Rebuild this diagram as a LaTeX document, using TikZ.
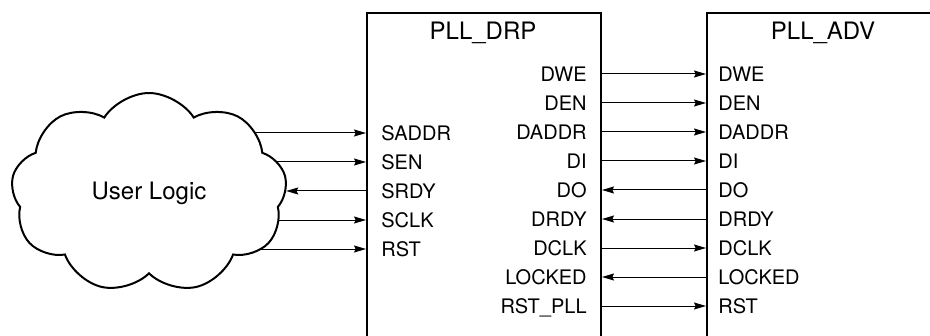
\documentclass[tikz,border=0pt]{standalone}
\usepackage{fontspec}
\setmainfont{TeX Gyre Heros}
\usetikzlibrary{shapes.symbols,arrows.meta,backgrounds}

\begin{document}
\begin{tikzpicture}[x=0.5pt,y=-0.5pt,
  block/.style={draw,line width=1pt,minimum width=#1,minimum height=220pt,anchor=north west,inner sep=0pt},
  port/.style={font=\fontsize{10}{12}\selectfont,inner sep=0pt,text height=7.2pt,text depth=0pt},
  title/.style={font=\fontsize{12}{14}\selectfont,inner sep=0pt},
  sig/.style={line width=0.5pt,-{Stealth[length=6pt,width=3.5pt,inset=0.8pt]}}]
  \useasboundingbox (0,0) rectangle (930,336);
  \clip (0,0) rectangle (930,336);

  % the two blocks
  \node[block=117pt] (drp) at (366,12) {};
  \node[block=150pt] (adv) at (706,12) {};
  \node[title] at (483,33) {PLL\_DRP};
  \node[title] at (823,33) {PLL\_ADV};

  % user side
  \node[cloud,draw,fill=white,line width=1pt,cloud puffs=9,cloud puff arc=115,
        cloud ignores aspect,minimum width=138pt,minimum height=100pt,
        font=\fontsize{12}{14}\selectfont] (ul) at (149,193) {User Logic};

  % PLL_DRP ports, left
  \node[port,anchor=west] (saddr) at (381,133) {SADDR};
  \node[port,anchor=west] (sen) at (381,162) {SEN};
  \node[port,anchor=west] (srdy) at (381,191) {SRDY};
  \node[port,anchor=west] (sclk) at (381,220) {SCLK};
  \node[port,anchor=west] (srst) at (381,249) {RST};

  % PLL_DRP ports, right
  \node[port,anchor=east] (dwe) at (587,74) {DWE};
  \node[port,anchor=east] (den) at (587,103) {DEN};
  \node[port,anchor=east] (daddr) at (587,132) {DADDR};
  \node[port,anchor=east] (di) at (587,161) {DI};
  \node[port,anchor=east] (do) at (587,190) {DO};
  \node[port,anchor=east] (drdy) at (587,219) {DRDY};
  \node[port,anchor=east] (dclk) at (587,248) {DCLK};
  \node[port,anchor=east] (locked) at (587,277) {LOCKED};
  \node[port,anchor=east] (rstpll) at (587,306) {RST\_PLL};

  % PLL_ADV ports
  \node[port,anchor=west] (a-dwe) at (718,74) {DWE};
  \node[port,anchor=west] (a-den) at (718,103) {DEN};
  \node[port,anchor=west] (a-daddr) at (718,132) {DADDR};
  \node[port,anchor=west] (a-di) at (718,161) {DI};
  \node[port,anchor=west] (a-do) at (718,190) {DO};
  \node[port,anchor=west] (a-drdy) at (718,219) {DRDY};
  \node[port,anchor=west] (a-dclk) at (718,248) {DCLK};
  \node[port,anchor=west] (a-locked) at (718,277) {LOCKED};
  \node[port,anchor=west] (a-rst) at (718,306) {RST};

  \begin{scope}[on background layer]
  \path[sig]
    (ul.center |- saddr) edge (drp.west |- saddr)
    (ul.center |- sen) edge (drp.west |- sen)
    (ul.center |- sclk) edge (drp.west |- sclk)
    (ul.center |- srst) edge (drp.west |- srst);
  \end{scope}
  \path[sig] (drp.west |- srdy) edge (ul.east |- srdy);

  \path[sig]
    (drp.east |- dwe) edge (adv.west |- a-dwe)
    (drp.east |- den) edge (adv.west |- a-den)
    (drp.east |- daddr) edge (adv.west |- a-daddr)
    (drp.east |- di) edge (adv.west |- a-di)
    (adv.west |- a-do) edge (drp.east |- do)
    (adv.west |- a-drdy) edge (drp.east |- drdy)
    (drp.east |- dclk) edge (adv.west |- a-dclk)
    (adv.west |- a-locked) edge (drp.east |- locked)
    (drp.east |- rstpll) edge (adv.west |- a-rst);
\end{tikzpicture}
\end{document}
